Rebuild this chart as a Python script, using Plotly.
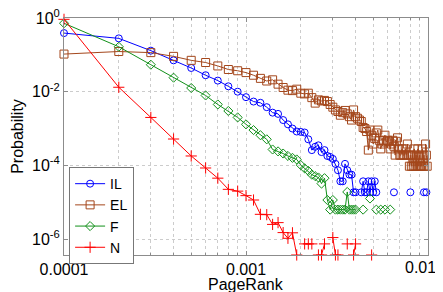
import plotly.graph_objects as go

# PageRank bins (0.0001 ... 0.0100)
pagerank = [round(i * 1e-4, 4) for i in range(1, 101)]

il = [
    0.39, 0.28, 0.13, 0.071, 0.044, 0.028, 0.020, 0.014, 0.010, 0.0071,
    0.0054, 0.0050, 0.0038, 0.0027, 0.0025, 0.0017, 0.0013, 0.0010, 0.00083, 0.00081,
    0.00078, 0.00051, 0.00026, 0.00032, 0.00035, 0.00023, 0.00026, 0.00018, 0.00017, 0.00015,
    0.00011, 7.4e-5, 3.7e-5, 3.7e-5, 1.1e-4, 7.4e-5, 5.6e-5, 5.6e-5, 1.86e-5, 1.86e-5,
    None, None, 1.86e-5, 3.7e-5, 1.86e-5, 1.86e-5, 3.7e-5, 1.86e-5, 3.7e-5, 1.86e-5,
    3.7e-5, 1.86e-5, None, None, None, None, None, None, None, None,
    None, None, None, None, 1.86e-5, None, None, None, None, None,
    None, None, None, None, None, None, None, None, None, 1.86e-5,
    None, None, None, None, None, None, None, None, None, None,
    None, None, None, None, 1.86e-5, None, None, 1.86e-5, None, None,
]

el = [
    0.105, 0.123, 0.115, 0.091, 0.071, 0.062, 0.050, 0.040, 0.037, 0.033,
    0.028, 0.023, 0.0195, 0.021, 0.016, 0.013, 0.011, 0.0107, 0.0117, 0.0091,
    0.0087, 0.0091, 0.0069, 0.0049, 0.0060, 0.0056, 0.0058, 0.0054, 0.0045, 0.0038,
    0.0032, 0.0029, 0.0023, 0.0027, 0.0031, 0.0025, 0.0021, 0.0017, 0.0032, 0.0021,
    0.0019, 0.0017, 0.00155, 0.00107, 0.0010, 0.00083, 0.00026, 0.00091, 0.00066, 0.00038,
    0.00054, 0.00076, 0.00091, 0.00048, 0.00028, 0.00038, 0.00048, 0.00066, 0.00043, 0.00048,
    0.00045, 0.00028, 0.00038, 0.00048, 0.00033, 0.00019, 0.00045, 0.00056, 0.00028, 0.00019,
    0.00019, 0.00028, 0.00019, 0.00019, 0.00028, 0.00019, 0.00038, 0.00019, 9.5e-5, 0.00019,
    9.5e-5, 0.00019, 9.5e-5, 0.00028, 9.5e-5, 0.00019, 9.5e-5, 0.00028, 9.5e-5, 0.00019,
    9.5e-5, 9.5e-5, 0.00028, 9.5e-5, 0.00019, 9.5e-5, 0.00038, 0.00019, 9.5e-5, 0.00019,
]

f = [
    0.72, 0.166, 0.054, 0.024, 0.0126, 0.0079, 0.0045, 0.0030, 0.0020, 0.0013,
    0.00091, 0.00066, 0.00051, 0.00027, 0.00024, 0.00021, 0.00018, 0.00016, 0.000145, 0.000102,
    8.3e-5, 7.1e-5, 5.6e-5, 5.1e-5, 4.7e-5, 3.2e-5, 4.5e-5, 1.15e-5, 6.3e-6, 1.15e-5,
    6.3e-6, 6.3e-6, 6.3e-6, 6.3e-6, 6.3e-6, 1.9e-5, 6.3e-6, 6.3e-6, 6.3e-6, 6.3e-6,
    None, None, None, 6.3e-6, None, None, None, 1.26e-5, None, None,
    None, 6.3e-6, None, None, 6.3e-6, None, None, 6.3e-6, None, None,
    None, 6.3e-6, None, None, None, None, None, None, None, None,
] + [None] * 30

n = [
    0.92, 0.0132, 0.0020, 0.00052, 0.00018, 8.5e-5, 4.5e-5, 2.24e-5, 2.0e-5, 1.51e-5,
    1.15e-5, 4.7e-6, 4.6e-6, 2.5e-6, 2.8e-6, 1.5e-6, 1.05e-6, 1.48e-6, 3.7e-7, None,
    7.4e-7, 7.4e-7, 7.4e-7, None, 3.7e-7, 3.7e-7, 7.4e-7, None, None, 1.1e-6,
    3.7e-7, 3.7e-7, None, None, None, 7.4e-7, None, None, 3.7e-7, 7.4e-7,
    None, None, None, None, None, None, None, None, 3.7e-7, None,
] + [None] * 50

x_ticks = [1e-4, 1e-3, 1e-2]
x_ticktext = ["0.0001", "0.001", ""]
x_last_label = "0.01"
x_title = "PageRank"
y_title = "Probability"
y_ticks = [1, 1e-2, 1e-4, 1e-6]
y_ticktext = ["10<sup>0</sup>", "10<sup>-2</sup>", "10<sup>-4</sup>", "10<sup>-6</sup>"]
x_minor = [m * 10.0 ** e for e in (-4, -3) for m in range(2, 10)]

series = [
    ("IL", il, "#0000ff", "circle-open", 7),
    ("EL", el, "#a4471c", "square-open", 8),
    ("F", f, "#12901a", "diamond-open", 7),
    ("N", n, "#ff0000", "cross-thin-open", 8),
]

fig = go.Figure()
for name, vals, color, sym, size in series:
    fig.add_trace(go.Scatter(
        x=pagerank, y=vals, name=name, mode="lines+markers",
        line=dict(color=color, width=1),
        marker=dict(symbol=sym, size=size, color=color, line=dict(color=color, width=1)),
        connectgaps=False, cliponaxis=False,
    ))

font = "Liberation Sans, Arial, sans-serif"
axis_common = dict(
    showline=True, mirror="allticks", linecolor="#8c8c8c", linewidth=1,
    ticks="inside", ticklen=4, tickcolor="#8c8c8c",
    showgrid=True, gridcolor="#cccccc", griddash="dot", gridwidth=1,
    zeroline=False, tickfont=dict(family=font, size=16, color="black"),
    automargin=False, ticklabeloverflow="allow",
)

fig.update_xaxes(
    type="log", range=[-4, -2], tickmode="array", tickvals=x_ticks, ticktext=x_ticktext,
    minor=dict(tickmode="array", tickvals=x_minor, ticks="inside", ticklen=2,
               tickcolor="#8c8c8c", showgrid=True, gridcolor="#cccccc", griddash="dot"),
    **axis_common,
)
fig.update_yaxes(
    type="log", range=[-6.432, 0], tickmode="array", tickvals=y_ticks, ticktext=y_ticktext,
    title=dict(text=y_title, font=dict(family=font, size=16, color="black"), standoff=4),
    **axis_common,
)

# last x tick label, nudged left so it stays inside the window like the original
fig.add_annotation(
    x=1.0, y=0, xref="paper", yref="paper", xanchor="right", yanchor="top",
    xshift=10, yshift=-2, text=x_last_label, showarrow=False,
    font=dict(family=font, size=16, color="black"),
)
# x axis title
fig.add_annotation(
    x=0.5, y=0, xref="paper", yref="paper", xanchor="center", yanchor="top",
    yshift=-19, text=x_title, showarrow=False,
    font=dict(family=font, size=16, color="black"),
)

# page body has an 8px margin; figure sized to fit the 443x292 window
fig.update_layout(
    width=435, height=284,
    margin=dict(l=56, r=15, t=10, b=37, autoexpand=False),
    paper_bgcolor="white", plot_bgcolor="white",
    font=dict(family=font, size=16, color="black"),
    legend=dict(
        x=0.014, y=0.371, xanchor="left", yanchor="top",
        bgcolor="white", bordercolor="#777777", borderwidth=1,
        font=dict(family=font, size=14), itemwidth=30, tracegroupgap=0,
    ),
    showlegend=True,
)

fig.write_html("out.html")
